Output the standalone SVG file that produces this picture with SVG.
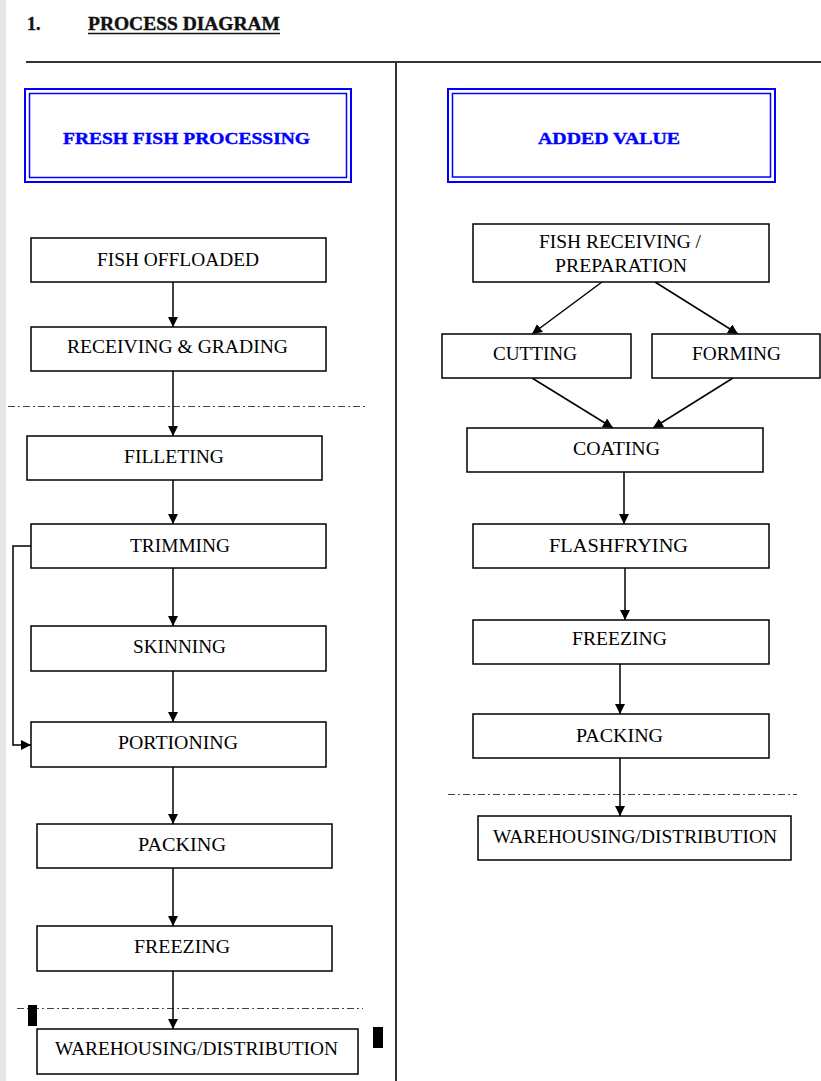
<svg xmlns="http://www.w3.org/2000/svg" width="821" height="1081" viewBox="0 0 821 1081">
<style>
.box{fill:#fff;stroke:#000;stroke-width:1.5}
.t{font-family:"Liberation Serif","Times New Roman",serif;font-size:18px;fill:#000;text-anchor:middle}
.h{font-family:"Liberation Serif","Times New Roman",serif;font-size:17px;font-weight:bold;fill:#0000ff;stroke:#0000ff;stroke-width:0.4;text-anchor:middle}
.hb{fill:none;stroke:#0000ff}
.c{fill:none;stroke:#000;stroke-width:1.5;marker-end:url(#ah)}
.dd{stroke:#444;stroke-width:1;stroke-dasharray:7 3 2 3}
.tt{font-family:"Liberation Serif","Times New Roman",serif;font-size:18px;font-weight:bold;fill:#111;stroke:#111;stroke-width:0.4}
</style>
<defs>
<marker id="ah" markerWidth="11" markerHeight="11" refX="10" refY="5" orient="auto" markerUnits="userSpaceOnUse">
<path d="M0,0 L10,5 L0,10 z" fill="#000"/>
</marker>
</defs>
<rect x="0" y="0" width="821" height="1081" fill="#fff"/>
<rect x="0" y="0" width="6" height="1081" fill="#e6e6e6"/>

<g id="title">
<text class="tt" x="27" y="30">1.</text>
<text class="tt" x="88" y="30" textLength="192" lengthAdjust="spacingAndGlyphs">PROCESS DIAGRAM</text>
<line x1="88" y1="33.5" x2="280" y2="33.5" stroke="#111" stroke-width="1.5"/>
</g>

<g id="frame">
<line x1="26" y1="62" x2="821" y2="62" stroke="#333" stroke-width="2"/>
<line x1="396" y1="62" x2="396" y2="1081" stroke="#333" stroke-width="2"/>
</g>

<g id="separators">
<line class="dd" x1="8" y1="406.5" x2="365" y2="406.5"/>
<line class="dd" x1="17" y1="1008.5" x2="363" y2="1008.5"/>
<line class="dd" x1="448" y1="794.5" x2="797" y2="794.5"/>
<rect x="28" y="1005" width="9" height="21" fill="#000"/>
<rect x="373" y="1027" width="10" height="21" fill="#000"/>
</g>

<g id="hdr-fresh">
<rect class="hb" x="25" y="89" width="326" height="93" stroke-width="2"/>
<rect class="hb" x="29.5" y="93.5" width="317" height="84" stroke-width="1.5"/>
<text class="h" x="186.5" y="144" textLength="247" lengthAdjust="spacingAndGlyphs">FRESH FISH PROCESSING</text>
</g>
<g id="hdr-added">
<rect class="hb" x="448" y="89" width="327" height="93" stroke-width="2"/>
<rect class="hb" x="452.5" y="93.5" width="318" height="83.5" stroke-width="1.5"/>
<text class="h" x="609" y="144" textLength="142" lengthAdjust="spacingAndGlyphs">ADDED VALUE</text>
</g>

<g id="connectors">
<line class="c" x1="173" y1="282" x2="173" y2="327"/>
<line class="c" x1="173" y1="371" x2="173" y2="436"/>
<line class="c" x1="173" y1="480" x2="173" y2="524"/>
<line class="c" x1="173" y1="568" x2="173" y2="626"/>
<line class="c" x1="173" y1="671" x2="173" y2="722"/>
<line class="c" x1="173" y1="767" x2="173" y2="824"/>
<line class="c" x1="173" y1="868" x2="173" y2="926"/>
<line class="c" x1="173" y1="971" x2="173" y2="1029"/>
<polyline class="c" points="31,546 13,546 13,745 31,745"/>
<line class="c" x1="602" y1="282" x2="532" y2="334"/>
<line class="c" x1="655" y1="282" x2="738" y2="334"/>
<line class="c" x1="532" y1="378" x2="613" y2="428"/>
<line class="c" x1="733" y1="378" x2="653" y2="428"/>
<line class="c" x1="624" y1="472" x2="624" y2="524"/>
<line class="c" x1="625" y1="568" x2="625" y2="620"/>
<line class="c" x1="620" y1="664" x2="620" y2="714"/>
<line class="c" x1="620" y1="758" x2="620" y2="816"/>
</g>

<g id="n-fish-offloaded"><rect class="box" x="31" y="238" width="295" height="44"/><text class="t" x="178" y="266" textLength="162" lengthAdjust="spacingAndGlyphs">FISH OFFLOADED</text></g>
<g id="n-receiving-grading"><rect class="box" x="31" y="327" width="295" height="44"/><text class="t" x="177.5" y="353" textLength="221" lengthAdjust="spacingAndGlyphs">RECEIVING &amp; GRADING</text></g>
<g id="n-filleting"><rect class="box" x="27" y="436" width="295" height="44"/><text class="t" x="174" y="463" textLength="100" lengthAdjust="spacingAndGlyphs">FILLETING</text></g>
<g id="n-trimming"><rect class="box" x="31" y="524" width="295" height="44"/><text class="t" x="180" y="552" textLength="100" lengthAdjust="spacingAndGlyphs">TRIMMING</text></g>
<g id="n-skinning"><rect class="box" x="31" y="626" width="295" height="45"/><text class="t" x="179.5" y="653" textLength="93" lengthAdjust="spacingAndGlyphs">SKINNING</text></g>
<g id="n-portioning"><rect class="box" x="31" y="722" width="295" height="45"/><text class="t" x="178" y="749" textLength="120" lengthAdjust="spacingAndGlyphs">PORTIONING</text></g>
<g id="n-packing-l"><rect class="box" x="37" y="824" width="295" height="44"/><text class="t" x="182" y="851" textLength="88" lengthAdjust="spacingAndGlyphs">PACKING</text></g>
<g id="n-freezing-l"><rect class="box" x="37" y="926" width="295" height="45"/><text class="t" x="182" y="953" textLength="96" lengthAdjust="spacingAndGlyphs">FREEZING</text></g>
<g id="n-warehousing-l"><rect class="box" x="37" y="1029" width="321" height="45"/><text class="t" x="196.5" y="1055" textLength="283" lengthAdjust="spacingAndGlyphs">WAREHOUSING/DISTRIBUTION</text></g>

<g id="n-fish-receiving"><rect class="box" x="473" y="224" width="296" height="58"/><text class="t" x="620" y="248" textLength="162" lengthAdjust="spacingAndGlyphs">FISH RECEIVING /</text><text class="t" x="621" y="272" textLength="132" lengthAdjust="spacingAndGlyphs">PREPARATION</text></g>
<g id="n-cutting"><rect class="box" x="442" y="334" width="189" height="44"/><text class="t" x="535" y="360" textLength="84" lengthAdjust="spacingAndGlyphs">CUTTING</text></g>
<g id="n-forming"><rect class="box" x="652" y="334" width="168" height="44"/><text class="t" x="736.5" y="360" textLength="89" lengthAdjust="spacingAndGlyphs">FORMING</text></g>
<g id="n-coating"><rect class="box" x="467" y="428" width="296" height="44"/><text class="t" x="616.5" y="455" textLength="87" lengthAdjust="spacingAndGlyphs">COATING</text></g>
<g id="n-flashfrying"><rect class="box" x="473" y="524" width="296" height="44"/><text class="t" x="618.5" y="552" textLength="139" lengthAdjust="spacingAndGlyphs">FLASHFRYING</text></g>
<g id="n-freezing-r"><rect class="box" x="473" y="620" width="296" height="44"/><text class="t" x="619.5" y="645" textLength="95" lengthAdjust="spacingAndGlyphs">FREEZING</text></g>
<g id="n-packing-r"><rect class="box" x="473" y="714" width="296" height="44"/><text class="t" x="619.5" y="742" textLength="87" lengthAdjust="spacingAndGlyphs">PACKING</text></g>
<g id="n-warehousing-r"><rect class="box" x="478" y="816" width="313" height="44"/><text class="t" x="635" y="843" textLength="284" lengthAdjust="spacingAndGlyphs">WAREHOUSING/DISTRIBUTION</text></g>
</svg>
